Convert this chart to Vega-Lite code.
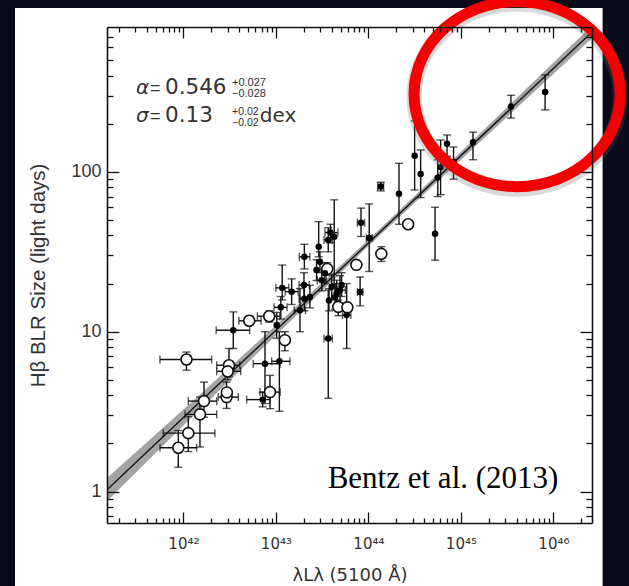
{
  "$schema": "https://vega.github.io/schema/vega-lite/v6.json",
  "width": 485,
  "height": 496,
  "autosize": {"type": "none"},
  "padding": {"left": 107, "top": 27, "right": 37, "bottom": 63},
  "background": "#09091a",
  "config": {
    "font": "Liberation Sans",
    "view": {"stroke": null},
    "axis": {
      "grid": false,
      "zindex": 1,
      "domain": true,
      "domainColor": "#111111",
      "domainWidth": 1.6,
      "tickColor": "#111111",
      "tickWidth": 1.3,
      "labelFont": "Liberation Sans",
      "titleFont": "Liberation Sans",
      "labelColor": "#333333",
      "titleColor": "#333333",
      "titleFontWeight": "normal",
      "labelOverlap": false,
      "labelFlush": false,
      "labelBound": false
    }
  },
  "datasets": {
    "fit": [
      {"L": 1.493e41, "lo": 0.87, "hi": 1.215, "mid": 1.028},
      {"L": 1e42, "lo": 2.59, "hi": 3.26, "mid": 2.904},
      {"L": 1e43, "lo": 9.5, "hi": 10.97, "mid": 10.21},
      {"L": 1e44, "lo": 34.3, "hi": 37.6, "mid": 35.89},
      {"L": 1e45, "lo": 119.1, "hi": 133.7, "mid": 126.2},
      {"L": 2.612e46, "lo": 683.4, "hi": 821.6, "mid": 749.3}
    ],
    "agn": [
      {"L": 8.13e45, "R": 316, "Rlo": 244, "Rhi": 404, "kind": "filled"},
      {"L": 3.47e45, "R": 256, "Rlo": 217, "Rhi": 301, "kind": "filled"},
      {"L": 1.35e45, "R": 153, "Rlo": 119, "Rhi": 177, "kind": "filled"},
      {"L": 7.08e44, "R": 150, "Rlo": 125, "Rhi": 170, "kind": "filled"},
      {"L": 6.03e44, "R": 107, "Rlo": 72, "Rhi": 158, "kind": "filled"},
      {"L": 5.62e44, "R": 92, "Rlo": 70, "Rhi": 119, "kind": "filled"},
      {"L": 8.32e44, "R": 115, "Rlo": 90, "Rhi": 143, "kind": "filled"},
      {"L": 3.16e44, "R": 126, "Rlo": 77, "Rhi": 208, "kind": "filled"},
      {"L": 3.67e44, "R": 97, "Rlo": 69, "Rhi": 137, "kind": "filled"},
      {"L": 2.14e44, "R": 73, "Rlo": 47, "Rhi": 113, "kind": "filled"},
      {"L": 1.36e44, "R": 81, "Rlo": 76, "Rhi": 86, "Llo": 1.26e44, "Lhi": 1.46e44, "kind": "filled"},
      {"L": 2.69e44, "R": 47, "kind": "open"},
      {"L": 5.25e44, "R": 41, "Rlo": 28, "Rhi": 60, "kind": "filled"},
      {"L": 8.32e43, "R": 48, "Rlo": 39.4, "Rhi": 59.3, "Llo": 7.6e43, "Lhi": 9.1e43, "kind": "filled"},
      {"L": 1.02e44, "R": 38.5, "Rlo": 23.8, "Rhi": 63, "Llo": 9.5e43, "Lhi": 1.1e44, "kind": "filled"},
      {"L": 1.38e44, "R": 30.7, "Rlo": 27.5, "Rhi": 34, "kind": "open"},
      {"L": 7.41e43, "R": 26.2, "kind": "open"},
      {"L": 8.13e43, "R": 17.7, "Rlo": 14.5, "Rhi": 22, "Llo": 7.6e43, "Lhi": 8.7e43, "kind": "filled"},
      {"L": 2.03e43, "R": 29.4, "Rlo": 24.7, "Rhi": 35.2, "Llo": 1.79e43, "Lhi": 2.33e43, "kind": "filled"},
      {"L": 2.9e43, "R": 34.0, "Rlo": 29.4, "Rhi": 48.8, "kind": "filled"},
      {"L": 3.68e43, "R": 37.5, "Rlo": 31.6, "Rhi": 44.7, "Llo": 3.31e43, "Lhi": 4.07e43, "kind": "filled"},
      {"L": 4.27e43, "R": 39.3, "Rlo": 19.1, "Rhi": 66.8, "kind": "filled"},
      {"L": 3.89e43, "R": 41.7, "Rlo": 36, "Rhi": 47, "Llo": 3.39e43, "Lhi": 4.68e43, "kind": "filled"},
      {"L": 3.59e43, "R": 24.7, "Rlo": 22.5, "Rhi": 27, "kind": "open"},
      {"L": 2.75e43, "R": 24.3, "Rlo": 20.9, "Rhi": 28.2, "kind": "filled"},
      {"L": 3.13e43, "R": 21.0, "Rlo": 18, "Rhi": 24.5, "Llo": 2.8e43, "Lhi": 3.5e43, "kind": "filled"},
      {"L": 1.17e43, "R": 18.8, "Rlo": 15.8, "Rhi": 26.1, "Llo": 1.0e43, "Lhi": 1.38e43, "kind": "filled"},
      {"L": 1.13e43, "R": 14.2, "Rlo": 12, "Rhi": 16.6, "Llo": 9.55e42, "Lhi": 1.32e43, "kind": "filled"},
      {"L": 1.02e43, "R": 11.0, "Rlo": 9.1, "Rhi": 13.2, "kind": "filled"},
      {"L": 1.48e43, "R": 17.8, "Rlo": 14.8, "Rhi": 21.4, "Llo": 1.26e43, "Lhi": 1.74e43, "kind": "filled"},
      {"L": 2.03e43, "R": 16.1, "Rlo": 13.5, "Rhi": 19.5, "Llo": 1.78e43, "Lhi": 2.34e43, "kind": "filled"},
      {"L": 2.33e43, "R": 16.5, "Rlo": 14.1, "Rhi": 19.5, "kind": "filled"},
      {"L": 1.82e43, "R": 13.6, "Rlo": 10, "Rhi": 18.6, "Llo": 1.58e43, "Lhi": 2.09e43, "kind": "filled"},
      {"L": 8.47e42, "R": 12.5, "Rlo": 11.5, "Rhi": 13.5, "Llo": 6.31e42, "Lhi": 1.1e43, "kind": "open"},
      {"L": 5.15e42, "R": 11.7, "Rlo": 11, "Rhi": 12.5, "Llo": 3.98e42, "Lhi": 6.92e42, "kind": "open"},
      {"L": 1.25e43, "R": 8.85, "Rlo": 7.6, "Rhi": 10, "kind": "open"},
      {"L": 3.68e43, "R": 9.06, "Rlo": 3.83, "Rhi": 18.2, "Llo": 3.31e43, "Lhi": 4.07e43, "kind": "filled"},
      {"L": 3.75e43, "R": 15.7, "Rlo": 13.5, "Rhi": 18.6, "kind": "filled"},
      {"L": 4.72e43, "R": 14.3, "Rlo": 12.6, "Rhi": 15.8, "kind": "open"},
      {"L": 5.92e43, "R": 14.2, "kind": "open"},
      {"L": 5.82e43, "R": 12.7, "Rlo": 7.85, "Rhi": 20.0, "Llo": 5.25e43, "Lhi": 6.46e43, "kind": "filled"},
      {"L": 4.93e43, "R": 18.2, "Rlo": 15.1, "Rhi": 22.4, "Llo": 4.37e43, "Lhi": 5.62e43, "kind": "filled"},
      {"L": 4.37e43, "R": 16.5, "Rlo": 13.8, "Rhi": 20.0, "kind": "filled"},
      {"L": 5.13e43, "R": 19.6, "Rlo": 16.6, "Rhi": 23.4, "kind": "filled"},
      {"L": 4.01e43, "R": 19.1, "Rlo": 15.8, "Rhi": 22.9, "kind": "filled"},
      {"L": 3.39e43, "R": 23.2, "Rlo": 20, "Rhi": 26.9, "kind": "filled"},
      {"L": 2.99e43, "R": 27.4, "Rlo": 23.4, "Rhi": 31.6, "kind": "filled"},
      {"L": 4.54e43, "R": 17.4, "Rlo": 14.5, "Rhi": 21, "kind": "filled"},
      {"L": 2.01e43, "R": 19.6, "Rlo": 16.2, "Rhi": 23.4, "Llo": 1.78e43, "Lhi": 2.29e43, "kind": "filled"},
      {"L": 3.46e42, "R": 10.2, "Rlo": 7.85, "Rhi": 13.3, "Llo": 2.26e42, "Lhi": 5.21e42, "kind": "filled"},
      {"L": 1.08e42, "R": 6.7, "Rlo": 5.74, "Rhi": 7.46, "Llo": 5.58e41, "Lhi": 2.02e42, "kind": "open"},
      {"L": 3.11e42, "R": 6.17, "Rlo": 5.21, "Rhi": 7.85, "Llo": 2.29e42, "Lhi": 4.07e42, "kind": "open"},
      {"L": 3.01e42, "R": 5.65, "Rlo": 5.0, "Rhi": 6.3, "Llo": 2.29e42, "Lhi": 4.17e42, "kind": "open"},
      {"L": 1.67e42, "R": 3.68, "Rlo": 2.92, "Rhi": 4.84, "Llo": 1.13e42, "Lhi": 2.29e42, "kind": "open"},
      {"L": 1.51e42, "R": 3.04, "Rlo": 1.9, "Rhi": 3.9, "Llo": 1.04e42, "Lhi": 2.29e42, "kind": "open"},
      {"L": 1.13e42, "R": 2.32, "Rlo": 1.78, "Rhi": 2.95, "Llo": 6.05e41, "Lhi": 2.19e42, "kind": "open"},
      {"L": 8.81e41, "R": 1.88, "Rlo": 1.42, "Rhi": 2.41, "Llo": 5.58e41, "Lhi": 1.39e42, "kind": "open"},
      {"L": 2.93e42, "R": 3.9, "Rlo": 3.31, "Rhi": 4.84, "Llo": 2.38e42, "Lhi": 3.92e42, "kind": "open"},
      {"L": 2.95e42, "R": 4.17, "kind": "open"},
      {"L": 7.62e42, "R": 6.31, "Rlo": 3.55, "Rhi": 10, "Llo": 5.69e42, "Lhi": 1.11e43, "kind": "filled"},
      {"L": 1.09e43, "R": 6.53, "Rlo": 3.18, "Rhi": 10.0, "Llo": 8.99e42, "Lhi": 1.42e43, "kind": "filled"},
      {"L": 8.63e42, "R": 4.19, "Rlo": 3.3, "Rhi": 5.33, "Llo": 6.73e42, "Lhi": 1.11e43, "kind": "open"},
      {"L": 7.19e42, "R": 3.76, "Rlo": 3.39, "Rhi": 4.17, "Llo": 4.83e42, "Lhi": 8.63e42, "kind": "filled"}
    ]
  },
  "layer": [
    {
      "data": {"values": [{}]},
      "mark": {"type": "rect", "fill": "#ffffff"},
      "encoding": {
        "x": {"datum": 1.512e40, "type": "quantitative", "scale": {"type": "log", "domain": [1.493e41, 2.612e46], "nice": false}, "axis": null},
        "x2": {"datum": 3.4e46},
        "y": {"datum": 1058, "type": "quantitative", "scale": {"type": "log", "domain": [0.636, 805], "nice": false}, "axis": null},
        "y2": {"datum": 0.209}
      }
    },
    {
      "data": {"name": "fit"},
      "mark": {"type": "area", "color": "#9a9a9a", "opacity": 0.9, "clip": true},
      "encoding": {
        "x": {
          "field": "L", "type": "quantitative",
          "scale": {"type": "log", "domain": [1.493e41, 2.612e46], "nice": false},
          "axis": {
            "orient": "bottom",
            "zindex": 1,
            "values": [2e41,3e41,4e41,5e41,6e41,7e41,8e41,9e41,1e42,2e42,3e42,4e42,5e42,6e42,7e42,8e42,9e42,1e43,2e43,3e43,4e43,5e43,6e43,7e43,8e43,9e43,1e44,2e44,3e44,4e44,5e44,6e44,7e44,8e44,9e44,1e45,2e45,3e45,4e45,5e45,6e45,7e45,8e45,9e45,1e46,2e46],
            "tickSize": {"condition": {"test": "abs(log(datum.value)/LN10 - round(log(datum.value)/LN10)) < 1e-6", "value": -11}, "value": -5},
            "labelExpr": "abs(log(datum.value)/LN10 - round(log(datum.value)/LN10)) < 1e-6 ? '10' + substring('⁰¹²³⁴⁵⁶⁷⁸⁹', floor(round(log(datum.value)/LN10)/10), floor(round(log(datum.value)/LN10)/10) + 1) + substring('⁰¹²³⁴⁵⁶⁷⁸⁹', round(log(datum.value)/LN10) % 10, round(log(datum.value)/LN10) % 10 + 1) : ''",
            "labelFont": "DejaVu Sans",
            "labelFontSize": 15,
            "labelPadding": 24,
            "title": "λLλ (5100 Å)",
            "titleFont": "DejaVu Sans",
            "titleFontSize": 18,
            "titlePadding": 9
          }
        },
        "y": {
          "field": "lo", "type": "quantitative",
          "scale": {"type": "log", "domain": [0.636, 805], "nice": false},
          "axis": {
            "orient": "left",
            "zindex": 1,
            "values": [0.7,0.8,0.9,1,2,3,4,5,6,7,8,9,10,20,30,40,50,60,70,80,90,100,200,300,400,500,600,700],
            "tickSize": {"condition": {"test": "abs(log(datum.value)/LN10 - round(log(datum.value)/LN10)) < 1e-6", "value": -12}, "value": -6},
            "labelExpr": "abs(log(datum.value)/LN10 - round(log(datum.value)/LN10)) < 1e-6 ? '' + round(datum.value) : ''",
            "labelFontSize": 18,
            "labelPadding": 18,
            "title": "Hβ BLR Size (light days)",
            "titleFontSize": 20.5,
            "titlePadding": 22
          }
        },
        "y2": {"field": "hi"}
      }
    },
    {
      "data": {"name": "fit"},
      "mark": {"type": "line", "color": "#1a1a1a", "strokeWidth": 1.5, "clip": true},
      "encoding": {
        "x": {
          "field": "L", "type": "quantitative",
          "scale": {"type": "log", "domain": [1.493e41, 2.612e46], "nice": false},
          "axis": {
            "orient": "top",
            "zindex": 1,
            "values": [2e41,3e41,4e41,5e41,6e41,7e41,8e41,9e41,1e42,2e42,3e42,4e42,5e42,6e42,7e42,8e42,9e42,1e43,2e43,3e43,4e43,5e43,6e43,7e43,8e43,9e43,1e44,2e44,3e44,4e44,5e44,6e44,7e44,8e44,9e44,1e45,2e45,3e45,4e45,5e45,6e45,7e45,8e45,9e45,1e46,2e46],
            "tickSize": {"condition": {"test": "abs(log(datum.value)/LN10 - round(log(datum.value)/LN10)) < 1e-6", "value": -11}, "value": -5},
            "labels": false,
            "title": null
          }
        },
        "y": {
          "field": "mid", "type": "quantitative",
          "scale": {"type": "log", "domain": [0.636, 805], "nice": false},
          "axis": {
            "orient": "right",
            "zindex": 1,
            "values": [0.7,0.8,0.9,1,2,3,4,5,6,7,8,9,10,20,30,40,50,60,70,80,90,100,200,300,400,500,600,700],
            "tickSize": {"condition": {"test": "abs(log(datum.value)/LN10 - round(log(datum.value)/LN10)) < 1e-6", "value": -12}, "value": -6},
            "labels": false,
            "title": null
          }
        }
      }
    },
    {
      "data": {"name": "agn"},
      "transform": [{"filter": "isValid(datum.Rlo)"}],
      "mark": {"type": "rule", "color": "#111111", "strokeWidth": 1.4},
      "encoding": {
        "x": {"field": "L", "type": "quantitative", "scale": {"type": "log", "domain": [1.493e41, 2.612e46], "nice": false}, "axis": null},
        "y": {"field": "Rlo", "type": "quantitative", "scale": {"type": "log", "domain": [0.636, 805], "nice": false}, "axis": null},
        "y2": {"field": "Rhi"}
      }
    },
    {
      "data": {"name": "agn"},
      "transform": [{"filter": "isValid(datum.Rlo)"}, {"fold": ["Rlo", "Rhi"], "as": ["end", "Rcap"]}],
      "mark": {"type": "tick", "orient": "horizontal", "color": "#111111", "size": 8, "thickness": 1.4},
      "encoding": {
        "x": {"field": "L", "type": "quantitative", "scale": {"type": "log", "domain": [1.493e41, 2.612e46], "nice": false}, "axis": null},
        "y": {"field": "Rcap", "type": "quantitative", "scale": {"type": "log", "domain": [0.636, 805], "nice": false}, "axis": null}
      }
    },
    {
      "data": {"name": "agn"},
      "transform": [{"filter": "isValid(datum.Llo)"}],
      "mark": {"type": "rule", "color": "#111111", "strokeWidth": 1.4},
      "encoding": {
        "x": {"field": "Llo", "type": "quantitative", "scale": {"type": "log", "domain": [1.493e41, 2.612e46], "nice": false}, "axis": null},
        "x2": {"field": "Lhi"},
        "y": {"field": "R", "type": "quantitative", "scale": {"type": "log", "domain": [0.636, 805], "nice": false}, "axis": null}
      }
    },
    {
      "data": {"name": "agn"},
      "transform": [{"filter": "isValid(datum.Llo)"}, {"fold": ["Llo", "Lhi"], "as": ["end", "Lcap"]}],
      "mark": {"type": "tick", "orient": "vertical", "color": "#111111", "size": 8, "thickness": 1.4},
      "encoding": {
        "x": {"field": "Lcap", "type": "quantitative", "scale": {"type": "log", "domain": [1.493e41, 2.612e46], "nice": false}, "axis": null},
        "y": {"field": "R", "type": "quantitative", "scale": {"type": "log", "domain": [0.636, 805], "nice": false}, "axis": null}
      }
    },
    {
      "data": {"name": "agn"},
      "transform": [{"filter": "datum.kind === 'open'"}],
      "mark": {"type": "point", "shape": "circle", "filled": false, "fill": "#ffffff", "fillOpacity": 1, "stroke": "#111111", "strokeWidth": 1.6, "size": 120, "opacity": 1},
      "encoding": {
        "x": {"field": "L", "type": "quantitative", "scale": {"type": "log", "domain": [1.493e41, 2.612e46], "nice": false}, "axis": null},
        "y": {"field": "R", "type": "quantitative", "scale": {"type": "log", "domain": [0.636, 805], "nice": false}, "axis": null}
      }
    },
    {
      "data": {"name": "agn"},
      "transform": [{"filter": "datum.kind === 'filled'"}],
      "mark": {"type": "point", "shape": "circle", "filled": true, "color": "#000000", "size": 42, "opacity": 1},
      "encoding": {
        "x": {"field": "L", "type": "quantitative", "scale": {"type": "log", "domain": [1.493e41, 2.612e46], "nice": false}, "axis": null},
        "y": {"field": "R", "type": "quantitative", "scale": {"type": "log", "domain": [0.636, 805], "nice": false}, "axis": null}
      }
    },
    {
      "data": {"values": [{}]},
      "mark": {"type": "text", "text": "α", "font": "DejaVu Sans", "fontStyle": "italic", "fontSize": 20, "color": "#333333", "align": "left", "baseline": "alphabetic"},
      "encoding": {
        "x": {"datum": 3.073e41, "type": "quantitative", "scale": {"type": "log", "domain": [1.493e41, 2.612e46], "nice": false}, "axis": null},
        "y": {"datum": 306.4, "type": "quantitative", "scale": {"type": "log", "domain": [0.636, 805], "nice": false}, "axis": null}
      }
    },
    {
      "data": {"values": [{}]},
      "mark": {"type": "text", "text": "=", "fontSize": 18, "color": "#333333", "align": "left", "baseline": "alphabetic"},
      "encoding": {
        "x": {"datum": 4.353e41, "type": "quantitative", "scale": {"type": "log", "domain": [1.493e41, 2.612e46], "nice": false}, "axis": null},
        "y": {"datum": 306.4, "type": "quantitative", "scale": {"type": "log", "domain": [0.636, 805], "nice": false}, "axis": null}
      }
    },
    {
      "data": {"values": [{}]},
      "mark": {"type": "text", "text": "0.546", "font": "DejaVu Sans", "fontSize": 21.5, "color": "#333333", "align": "left", "baseline": "alphabetic"},
      "encoding": {
        "x": {"datum": 6.32e41, "type": "quantitative", "scale": {"type": "log", "domain": [1.493e41, 2.612e46], "nice": false}, "axis": null},
        "y": {"datum": 306.4, "type": "quantitative", "scale": {"type": "log", "domain": [0.636, 805], "nice": false}, "axis": null}
      }
    },
    {
      "data": {"values": [{}]},
      "mark": {"type": "text", "text": "+0.027", "fontSize": 11, "color": "#333333", "align": "left", "baseline": "alphabetic"},
      "encoding": {
        "x": {"datum": 3.353e42, "type": "quantitative", "scale": {"type": "log", "domain": [1.493e41, 2.612e46], "nice": false}, "axis": null},
        "y": {"datum": 345.3, "type": "quantitative", "scale": {"type": "log", "domain": [0.636, 805], "nice": false}, "axis": null}
      }
    },
    {
      "data": {"values": [{}]},
      "mark": {"type": "text", "text": "−0.028", "fontSize": 11, "color": "#333333", "align": "left", "baseline": "alphabetic"},
      "encoding": {
        "x": {"datum": 3.353e42, "type": "quantitative", "scale": {"type": "log", "domain": [1.493e41, 2.612e46], "nice": false}, "axis": null},
        "y": {"datum": 292.2, "type": "quantitative", "scale": {"type": "log", "domain": [0.636, 805], "nice": false}, "axis": null}
      }
    },
    {
      "data": {"values": [{}]},
      "mark": {"type": "text", "text": "σ", "font": "DejaVu Sans", "fontStyle": "italic", "fontSize": 20, "color": "#333333", "align": "left", "baseline": "alphabetic"},
      "encoding": {
        "x": {"datum": 3.073e41, "type": "quantitative", "scale": {"type": "log", "domain": [1.493e41, 2.612e46], "nice": false}, "axis": null},
        "y": {"datum": 205.6, "type": "quantitative", "scale": {"type": "log", "domain": [0.636, 805], "nice": false}, "axis": null}
      }
    },
    {
      "data": {"values": [{}]},
      "mark": {"type": "text", "text": "=", "fontSize": 18, "color": "#333333", "align": "left", "baseline": "alphabetic"},
      "encoding": {
        "x": {"datum": 4.353e41, "type": "quantitative", "scale": {"type": "log", "domain": [1.493e41, 2.612e46], "nice": false}, "axis": null},
        "y": {"datum": 205.6, "type": "quantitative", "scale": {"type": "log", "domain": [0.636, 805], "nice": false}, "axis": null}
      }
    },
    {
      "data": {"values": [{}]},
      "mark": {"type": "text", "text": "0.13", "font": "DejaVu Sans", "fontSize": 21.5, "color": "#333333", "align": "left", "baseline": "alphabetic"},
      "encoding": {
        "x": {"datum": 6.32e41, "type": "quantitative", "scale": {"type": "log", "domain": [1.493e41, 2.612e46], "nice": false}, "axis": null},
        "y": {"datum": 205.6, "type": "quantitative", "scale": {"type": "log", "domain": [0.636, 805], "nice": false}, "axis": null}
      }
    },
    {
      "data": {"values": [{}]},
      "mark": {"type": "text", "text": "+0.02", "fontSize": 10.5, "color": "#333333", "align": "left", "baseline": "alphabetic"},
      "encoding": {
        "x": {"datum": 3.353e42, "type": "quantitative", "scale": {"type": "log", "domain": [1.493e41, 2.612e46], "nice": false}, "axis": null},
        "y": {"datum": 226.7, "type": "quantitative", "scale": {"type": "log", "domain": [0.636, 805], "nice": false}, "axis": null}
      }
    },
    {
      "data": {"values": [{}]},
      "mark": {"type": "text", "text": "−0.02", "fontSize": 10.5, "color": "#333333", "align": "left", "baseline": "alphabetic"},
      "encoding": {
        "x": {"datum": 3.353e42, "type": "quantitative", "scale": {"type": "log", "domain": [1.493e41, 2.612e46], "nice": false}, "axis": null},
        "y": {"datum": 193.4, "type": "quantitative", "scale": {"type": "log", "domain": [0.636, 805], "nice": false}, "axis": null}
      }
    },
    {
      "data": {"values": [{}]},
      "mark": {"type": "text", "text": "dex", "font": "DejaVu Sans", "fontSize": 20, "color": "#333333", "align": "left", "baseline": "alphabetic"},
      "encoding": {
        "x": {"datum": 6.7e42, "type": "quantitative", "scale": {"type": "log", "domain": [1.493e41, 2.612e46], "nice": false}, "axis": null},
        "y": {"datum": 205.6, "type": "quantitative", "scale": {"type": "log", "domain": [0.636, 805], "nice": false}, "axis": null}
      }
    },
    {
      "data": {"values": [{}]},
      "mark": {"type": "text", "text": "Bentz et al. (2013)", "font": "Liberation Serif", "fontSize": 31, "color": "#000000", "align": "center", "baseline": "alphabetic"},
      "encoding": {
        "x": {"datum": 6.406e44, "type": "quantitative", "scale": {"type": "log", "domain": [1.493e41, 2.612e46], "nice": false}, "axis": null},
        "y": {"datum": 1.059, "type": "quantitative", "scale": {"type": "log", "domain": [0.636, 805], "nice": false}, "axis": null}
      }
    },
    {
      "data": {"values": [{}]},
      "mark": {"type": "point", "shape": "M -1 0.025 A 1 0.898 0 1 1 1 0.025 A 1 0.898 0 1 1 -1 0.025 Z", "filled": false, "stroke": "#666666", "strokeOpacity": 0.25, "strokeWidth": 15, "size": 42500, "opacity": 1},
      "encoding": {
        "x": {"datum": 4.05e45, "type": "quantitative", "scale": {"type": "log", "domain": [1.493e41, 2.612e46], "nice": false}, "axis": null},
        "y": {"datum": 306.4, "type": "quantitative", "scale": {"type": "log", "domain": [0.636, 805], "nice": false}, "axis": null}
      }
    },
    {
      "data": {"values": [{}]},
      "mark": {"type": "point", "shape": "M -1 0 A 1 0.898 0 1 1 1 0 A 1 0.898 0 1 1 -1 0 Z", "filled": false, "stroke": "#f50000", "strokeWidth": 11, "size": 42500, "opacity": 1},
      "encoding": {
        "x": {"datum": 4.05e45, "type": "quantitative", "scale": {"type": "log", "domain": [1.493e41, 2.612e46], "nice": false}, "axis": null},
        "y": {"datum": 306.4, "type": "quantitative", "scale": {"type": "log", "domain": [0.636, 805], "nice": false}, "axis": null}
      }
    }
  ],
  "resolve": {"axis": {"x": "independent", "y": "independent"}}
}
